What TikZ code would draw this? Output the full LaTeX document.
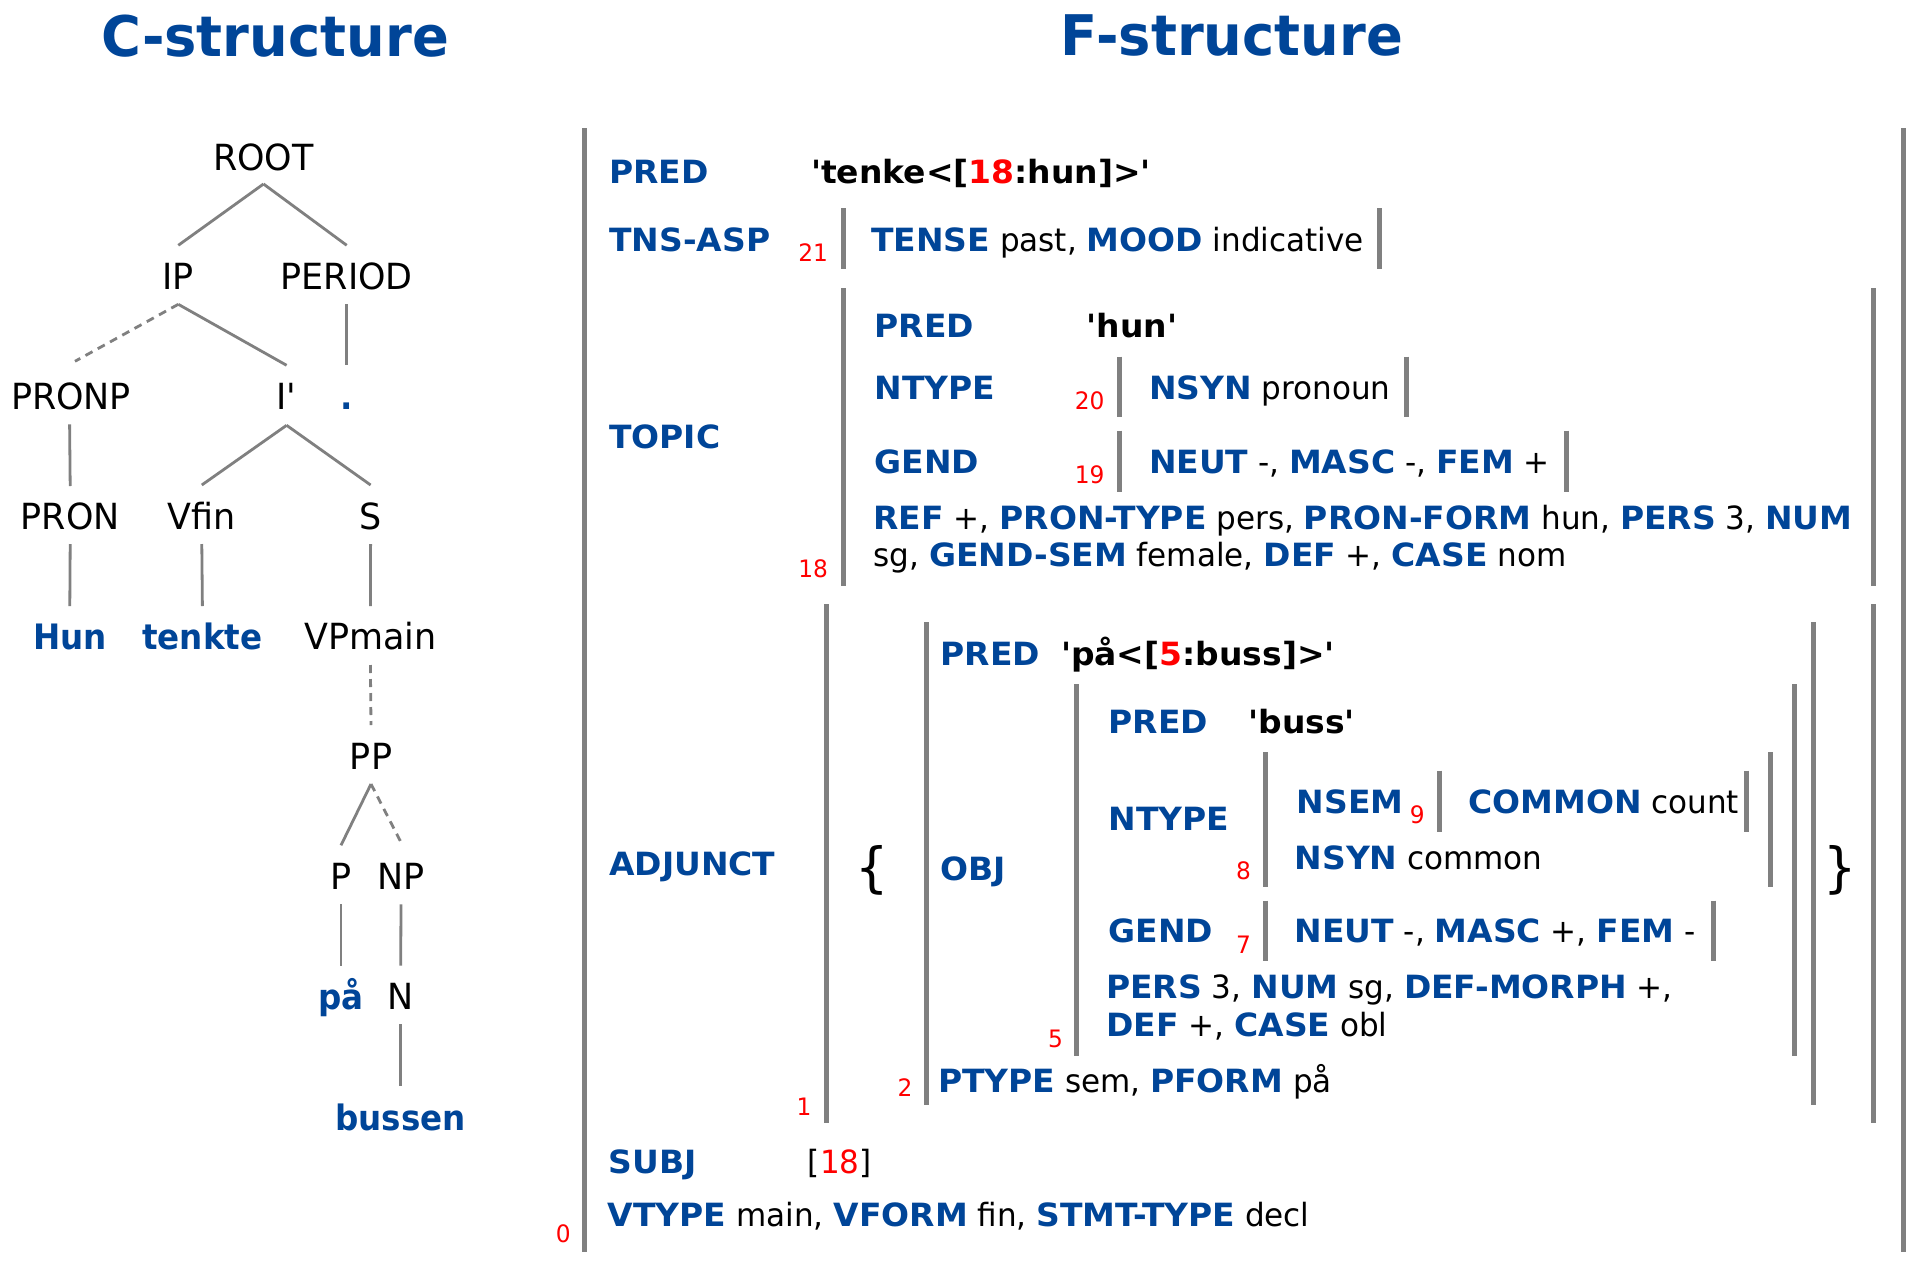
\documentclass[tikz,border=0pt]{standalone}
\usepackage{fontspec}
\newfontfamily\ff{DejaVu Sans}[FakeStretch=0.97]
\newfontfamily\ffb{DejaVu Sans}[FakeStretch=1.03]
\newfontfamily\ft{DejaVu Sans}[FakeStretch=0.97]
\newfontfamily\fl{DejaVu Sans}[FakeStretch=0.93]
\definecolor{fblue}{RGB}{0,69,152}
\definecolor{lgray}{RGB}{128,128,128}
\newcommand\K[1]{{\ffb\bfseries\color{fblue}#1}}
\newcommand\Rd[1]{{\color{red}#1}}
\newcommand\Bk[1]{{\ffb\bfseries #1}}
\tikzset{
  every node/.style={inner sep=0pt, outer sep=0pt},
  fs/.style={font=\ff\fontsize{32}{38}\selectfont, anchor=base west},
  idx/.style={font=\ff\fontsize{24}{28}\selectfont, text=red, anchor=base east},
  tl/.style={font=\ft\fontsize{36}{42}\selectfont, anchor=base},
  lf/.style={font=\fl\bfseries\fontsize{35}{42}\selectfont, text=fblue, anchor=base},
  ttl/.style={font=\ft\bfseries\fontsize{56}{64}\selectfont, text=fblue, anchor=base},
  brc/.style={font=\ff\fontsize{54}{60}\selectfont, anchor=base},
  tedge/.style={draw=lgray, line width=2.8pt},
  tdash/.style={tedge, dash pattern=on 8pt off 6pt},
  fbar/.style={draw=lgray, line width=5pt},
}
\newcommand\fb[3]{\draw[fbar] (#1,#2) -- (#1,#3);}
\begin{document}
\begin{tikzpicture}[x=1pt,y=-1pt]
\useasboundingbox[fill=white] (0,0) rectangle (1918,1266);
% titles
\node[ttl] (ctitle) at (275,56) {C-structure};
\node[ttl] (ftitle) at (1232,55) {F-structure};
% ---------------- C-structure tree
\node[tl] (ROOT) at (263.5,170) {ROOT};
\node[tl] (IP) at (178.3,289.3) {IP};
\node[tl] (PERIOD) at (346.7,289.3) {PERIOD};
\node[tl] (PRONP) at (71,409.3) {PRONP};
\node[tl] (Ibar) at (286.6,409.3) {I'};
\node[lf] (dot) at (346.7,409.3) {.};
\node[tl] (PRON) at (70.2,529) {PRON};
\node[tl] (Vfin) at (201.8,529) {Vfin};
\node[tl] (S) at (370.6,529) {S};
\node[lf] (Hun) at (69.8,649) {Hun};
\node[lf] (tenkte) at (202.4,649) {tenkte};
\node[tl] (VPmain) at (370.4,649) {VPmain};
\node[tl] (PP) at (371,769) {PP};
\node[tl] (P) at (341,889.3) {P};
\node[tl] (NP) at (401,889.3) {NP};
\node[lf] (paa) at (341,1009.3) {på};
\node[tl] (N) at (400.7,1009.3) {N};
\node[lf] (bussen) at (400.7,1130) {bussen};
\draw[tedge] ([yshift=-14pt]ROOT.base) -- ([yshift=44pt]IP.base);
\draw[tedge] ([yshift=-14pt]ROOT.base) -- ([yshift=44pt]PERIOD.base);
\draw[tdash] ([yshift=-15pt]IP.base) -- ([xshift=4pt,yshift=48pt]PRONP.base);
\draw[tedge] ([yshift=-15pt]IP.base) -- ([yshift=44pt]Ibar.base);
\draw[tedge] ([yshift=-15pt]PERIOD.base) -- ([yshift=44pt]dot.base);
\draw[tedge] ([xshift=-1.4pt,yshift=-15pt]PRONP.base) -- ([yshift=43pt]PRON.base);
\draw[tedge] ([yshift=-16pt]Ibar.base) -- ([yshift=44pt]Vfin.base);
\draw[tedge] ([yshift=-16pt]Ibar.base) -- ([yshift=44pt]S.base);
\draw[tedge] ([yshift=-15pt]PRON.base) -- ([yshift=43pt]Hun.base);
\draw[tedge] ([yshift=-15pt]Vfin.base) -- ([yshift=43pt]tenkte.base);
\draw[tedge] ([yshift=-15pt]S.base) -- ([yshift=43pt]VPmain.base);
\draw[tdash] ([yshift=-16pt]VPmain.base) -- ([yshift=44pt]PP.base);
\draw[tedge] ([yshift=-15pt]PP.base) -- ([yshift=44pt]P.base);
\draw[tdash] ([yshift=-15pt]PP.base) -- ([yshift=47pt]NP.base);
\draw[tedge] ([yshift=-15pt]P.base) -- ([yshift=43.6pt]paa.base);
\draw[tedge] ([yshift=-15pt]NP.base) -- ([yshift=43.6pt]N.base);
\draw[tedge] ([yshift=-15pt]N.base) -- ([yshift=44.3pt]bussen.base);
% ---------------- F-structure bars
\fb{584.7}{128.3}{1251.7}
\fb{1903}{128.3}{1251.7}
\fb{843.2}{208.3}{269.3}
\fb{1379}{208.3}{269.3}
\fb{843.2}{288.3}{585.7}
\fb{1873}{288.3}{585.7}
\fb{1119}{356.7}{417.3}
\fb{1406.8}{356.7}{417.3}
\fb{1119}{430.7}{491.7}
\fb{1566.6}{430.7}{491.7}
\fb{826.7}{604}{1123.3}
\fb{1873}{604}{1123.3}
\fb{926.7}{622.3}{1105}
\fb{1813.3}{622.3}{1105}
\fb{1076.7}{684.3}{1055.7}
\fb{1794.5}{684.3}{1055.7}
\fb{1265}{752.3}{886.7}
\fb{1770.7}{752.3}{886.7}
\fb{1439.2}{770.7}{831.7}
\fb{1746.8}{770.7}{831.7}
\fb{1265}{900.7}{960.7}
\fb{1713.1}{900.7}{960.7}
% ---------------- F-structure text
\node[fs] (fpred) at (609.3,183.3) {\K{PRED}};
\node[fs] (fpredv) at (811,183.3) {\Bk{'tenke<[\Rd{18}:hun]>'}};
\node[fs] (ftns) at (609.3,251.7) {\K{TNS-ASP}};
\node[idx] (i21) at (828,261.7) {21};
\node[fs] (ftnsv) at (871.3,251.7) {\K{TENSE} past, \K{MOOD} indicative};
\node[fs] (ftopic) at (609.3,448.3) {\K{TOPIC}};
\node[fs] (tpred) at (874.5,337.3) {\K{PRED}};
\node[fs] (tpredv) at (1086.5,337.3) {\Bk{'hun'}};
\node[fs] (tntype) at (874.5,399) {\K{NTYPE}};
\node[idx] (i20) at (1104.4,409) {20};
\node[fs] (tnsyn) at (1149,399) {\K{NSYN} pronoun};
\node[fs] (tgend) at (874.5,473.3) {\K{GEND}};
\node[idx] (i19) at (1104.4,483.3) {19};
\node[fs] (tgendv) at (1149,473.3) {\K{NEUT} -, \K{MASC} -, \K{FEM} +};
\node[fs] (tref1) at (873.6,529) {\K{REF} +, \K{PRON-TYPE} pers, \K{PRON-FORM} hun, \K{PERS} 3, \K{NUM}};
\node[fs] (tref2) at (873.6,566) {sg, \K{GEND-SEM} female, \K{DEF} +, \K{CASE} nom};
\node[idx] (i18) at (828,577.3) {18};
\node[fs] (fadj) at (609.3,875) {\K{ADJUNCT}};
\node[brc] (lbrace) at (871.8,886) {\{};
\node[brc] (rbrace) at (1840,886) {\}};
\node[fs] (apred) at (940.5,665) {\K{PRED}};
\node[fs] (apredv) at (1061,665) {\Bk{'på<[\Rd{5}:buss]>'}};
\node[fs] (aobj) at (940.5,880.7) {\K{OBJ}};
\node[fs] (opred) at (1108.8,733.3) {\K{PRED}};
\node[fs] (opredv) at (1248.6,733.3) {\Bk{'buss'}};
\node[fs] (ontype) at (1108.8,830) {\K{NTYPE}};
\node[idx] (i8) at (1250.8,879.3) {8};
\node[fs] (onsem) at (1296.9,813.3) {\K{NSEM}};
\node[idx] (i9) at (1424.7,823.3) {9};
\node[fs] (ocommon) at (1468.2,813.3) {\K{COMMON} count};
\node[fs] (onsyn) at (1294.7,869.3) {\K{NSYN} common};
\node[fs] (ogend) at (1108.8,942.7) {\K{GEND}};
\node[idx] (i7) at (1251,953.3) {7};
\node[fs] (ogendv) at (1294.7,942.7) {\K{NEUT} -, \K{MASC} +, \K{FEM} -};
\node[fs] (opers1) at (1106.3,998.3) {\K{PERS} 3, \K{NUM} sg, \K{DEF-MORPH} +,};
\node[fs] (opers2) at (1106.3,1036.7) {\K{DEF} +, \K{CASE} obl};
\node[idx] (i5) at (1063,1047.3) {5};
\node[fs] (aptype) at (938,1092.7) {\K{PTYPE} sem, \K{PFORM} på};
\node[idx] (i2) at (912.4,1096.7) {2};
\node[idx] (i1) at (811.4,1115) {1};
\node[fs] (fsubj) at (608.9,1173.3) {\K{SUBJ}};
\node[fs] (fsubjv) at (807.9,1173.3) {[\Rd{18}]};
\node[fs] (fvtype) at (607.9,1226.7) {\K{VTYPE} main, \K{VFORM} fin, \K{STMT-TYPE} decl};
\node[idx] (i0) at (570.6,1242.7) {0};
\end{tikzpicture}
\end{document}
